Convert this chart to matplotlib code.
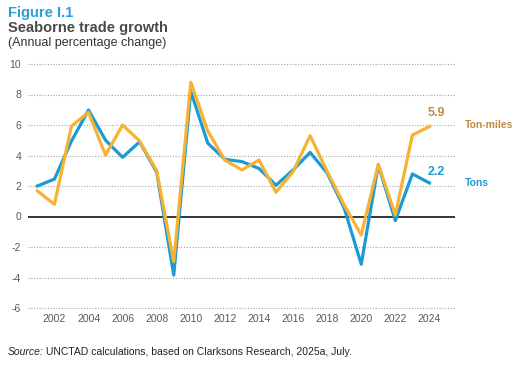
import matplotlib.pyplot as plt

# data
years = list(range(2001, 2025))
tons = [2.0, 2.45, 4.95, 6.98, 5.0, 3.88, 4.9, 2.9, -3.84, 8.2, 4.8, 3.75,
        3.6, 3.15, 2.05, 3.05, 4.2, 2.85, 0.55, -3.13, 3.38, -0.27, 2.79, 2.2]
ton_miles = [1.67, 0.8, 5.93, 6.83, 4.03, 6.0, 4.95, 3.0, -2.96, 8.8, 5.6, 3.7,
             3.05, 3.7, 1.59, 2.94, 5.3, 2.95, 0.75, -1.21, 3.42, 0.1, 5.34, 5.9]
xticks = list(range(2002, 2025, 2))
yticks = list(range(-6, 11, 2))

blue = '#1b9ad6'
yellow = '#f6b233'
brown = '#c48a43'
grey = '#595959'

plt.rcParams['font.family'] = ['Liberation Sans Narrow', 'Liberation Sans', 'DejaVu Sans']
plt.rcParams['axes.unicode_minus'] = False

fig = plt.figure(figsize=(5.17, 3.65), dpi=100)
W, H = 517, 365
# axes placed in pixel terms: x 28..455, y 64..308
ax = fig.add_axes([28 / W, 1 - 308 / H, (455 - 28) / W, (308 - 64) / H])

ax.set_xlim(2000.45, 2025.5)
ax.set_ylim(-6, 10)

for y in yticks:
    if y != 0:
        ax.axhline(y, color='#a6a6a6', lw=0.8, ls=(0, (1, 1.5)), zorder=1, clip_on=False)
ax.axhline(0, color='black', lw=1.1, zorder=2)

ax.plot(years, tons, color=blue, lw=2.3, zorder=3, clip_on=False)
ax.plot(years, ton_miles, color=yellow, lw=2.3, zorder=4, clip_on=False)

for s in ax.spines.values():
    s.set_visible(False)
ax.tick_params(length=0, labelsize=7.5, labelcolor=grey)
ax.tick_params(axis='y', pad=5)
ax.tick_params(axis='x', pad=4)
ax.set_xticks(xticks)
ax.set_yticks(yticks)

# end labels
ax.text(2024.4, 5.9 + 0.5, '5.9', color=brown, fontsize=9, fontweight='bold',
        ha='center', va='bottom')
ax.text(2024.4, 2.2 + 0.35, '2.2', color=blue, fontsize=9, fontweight='bold',
        ha='center', va='bottom')
ax.text(2026.05, 6.0, 'Ton-miles', color=brown, fontsize=7.5, fontweight='bold',
        ha='left', va='center', clip_on=False)
ax.text(2026.05, 2.2, 'Tons', color=blue, fontsize=7.5, fontweight='bold',
        ha='left', va='center', clip_on=False)

# titles
fig.text(8 / W, 1 - 13 / H, 'Figure I.1', color='#2a9fd8', fontsize=10.5,
         fontweight='bold', va='center', family=['Liberation Sans', 'DejaVu Sans'])
fig.text(8 / W, 1 - 28 / H, 'Seaborne trade growth', color='#4a4a4a', fontsize=10.5,
         fontweight='bold', va='center', family=['Liberation Sans', 'DejaVu Sans'])
fig.text(8 / W, 1 - 43 / H, '(Annual percentage change)', color='#333333', fontsize=9,
         va='center', family=['Liberation Sans', 'DejaVu Sans'])

# source
fig.text(8 / W, 1 - 352 / H, 'Source:', color='#222222', fontsize=7.5,
         style='italic', va='center', family=['Liberation Sans', 'DejaVu Sans'])
fig.text(46 / W, 1 - 352 / H, 'UNCTAD calculations, based on Clarksons Research, 2025a, July.',
         color='#222222', fontsize=7.5, va='center',
         family=['Liberation Sans', 'DejaVu Sans'])

fig.savefig('out.png', dpi=100)
